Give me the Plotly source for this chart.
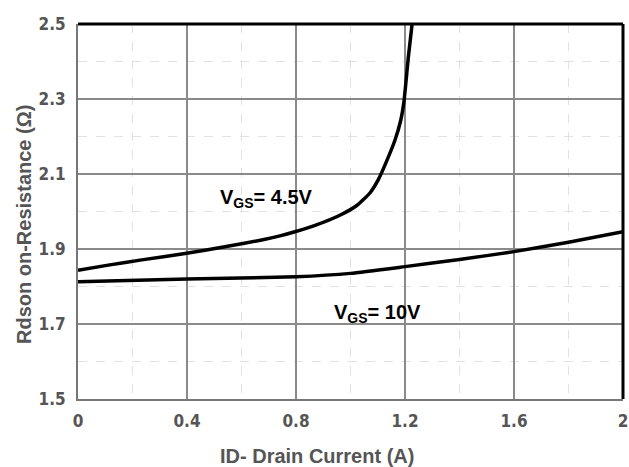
import plotly.graph_objects as go

# Data
id_45 = [0.0, 0.111, 0.234, 0.393, 0.539, 0.674, 0.741, 0.796, 0.87, 0.961, 1.023,
         1.072, 1.102, 1.133, 1.163, 1.184, 1.196, 1.212, 1.226]
r_45 = [1.843, 1.857, 1.871, 1.888, 1.906, 1.924, 1.935, 1.946, 1.963, 1.990, 2.016,
        2.050, 2.085, 2.135, 2.19, 2.242, 2.292, 2.41, 2.5]

id_10 = [0.0, 0.4, 0.8, 1.0, 1.2, 1.4, 1.6, 1.8, 2.0]
r_10 = [1.813, 1.82, 1.826, 1.835, 1.853, 1.872, 1.893, 1.918, 1.946]

x_ticks = [0, 0.4, 0.8, 1.2, 1.6, 2]
x_tick_labels = ["0", "0.4", "0.8", "1.2", "1.6", "2"]
y_ticks = [1.5, 1.7, 1.9, 2.1, 2.3, 2.5]
y_tick_labels = ["1.5", "1.7", "1.9", "2.1", "2.3", "2.5"]

labels = ["V<sub>GS</sub>= 4.5V", "V<sub>GS</sub>= 10V"]
label_x = [0.69, 1.10]
label_y = [2.036, 1.729]

x_title = "ID- Drain Current (A)"
y_title = "Rdson on-Resistance (Ω)"

fig = go.Figure()
for xs, ys in [(id_45, r_45), (id_10, r_10)]:
    fig.add_trace(go.Scatter(x=xs, y=ys, mode="lines",
                             line=dict(color="black", width=3.5, shape="spline", smoothing=0.5),
                             showlegend=False, hoverinfo="skip"))

for t, lx, ly in zip(labels, label_x, label_y):
    fig.add_annotation(x=lx, y=ly, text="<b>" + t + "</b>", showarrow=False,
                       font=dict(family="Liberation Sans, Arial", size=20, color="black"))

tick_font = dict(family="DejaVu Sans Condensed, DejaVu Sans, Verdana", size=17, color="#555555")
title_font = dict(family="Liberation Sans, Arial", size=20, color="#555555")

# axis titles placed as annotations (reference titles are off-centre)
fig.add_annotation(xref="paper", yref="paper", x=(317 - 78) / 545, y=(399 - 456) / 375,
                   text="<b>" + x_title + "</b>", showarrow=False, font=title_font,
                   xanchor="center", yanchor="middle")
fig.add_annotation(xref="paper", yref="paper", x=(24 - 78) / 545, y=(399 - 225) / 375,
                   text="<b>" + y_title + "</b>", showarrow=False, font=title_font,
                   textangle=-90, xanchor="center", yanchor="middle")

fig.update_xaxes(range=[0, 2], tickvals=x_ticks, ticktext=["<b>%s</b>" % t for t in x_tick_labels],
                 showgrid=True, gridcolor="#8a8a8a", gridwidth=2,
                 minor=dict(dtick=0.2, tick0=0, showgrid=True, gridcolor="#e2e2e2", griddash="dash", gridwidth=1),
                 showline=True, linecolor="#777777", linewidth=2,
                 zeroline=False, ticks="", tickfont=tick_font, ticklabelstandoff=6,
                 automargin=False)
fig.update_yaxes(range=[1.5, 2.5], tickvals=y_ticks, ticktext=["<b>%s</b>" % t for t in y_tick_labels],
                 showgrid=True, gridcolor="#8a8a8a", gridwidth=2,
                 minor=dict(dtick=0.1, tick0=1.5, showgrid=True, gridcolor="#e2e2e2", griddash="dash", gridwidth=1),
                 showline=True, linecolor="#777777", linewidth=2,
                 zeroline=False, ticks="", tickfont=tick_font, ticklabelstandoff=7,
                 automargin=False)

# top and right frame lines (black)
fig.add_shape(type="line", xref="paper", yref="paper", x0=0, x1=1, y0=1, y1=1,
              line=dict(color="black", width=3))
fig.add_shape(type="line", xref="paper", yref="paper", x0=1, x1=1, y0=0, y1=1,
              line=dict(color="black", width=3))

fig.update_layout(width=629, height=467, margin=dict(l=78, r=6, t=24, b=68),
                  plot_bgcolor="white", paper_bgcolor="white")

fig.write_html("out.html", config={"displayModeBar": False},
               post_script="document.body.style.margin='0';document.body.style.overflow='hidden';")
